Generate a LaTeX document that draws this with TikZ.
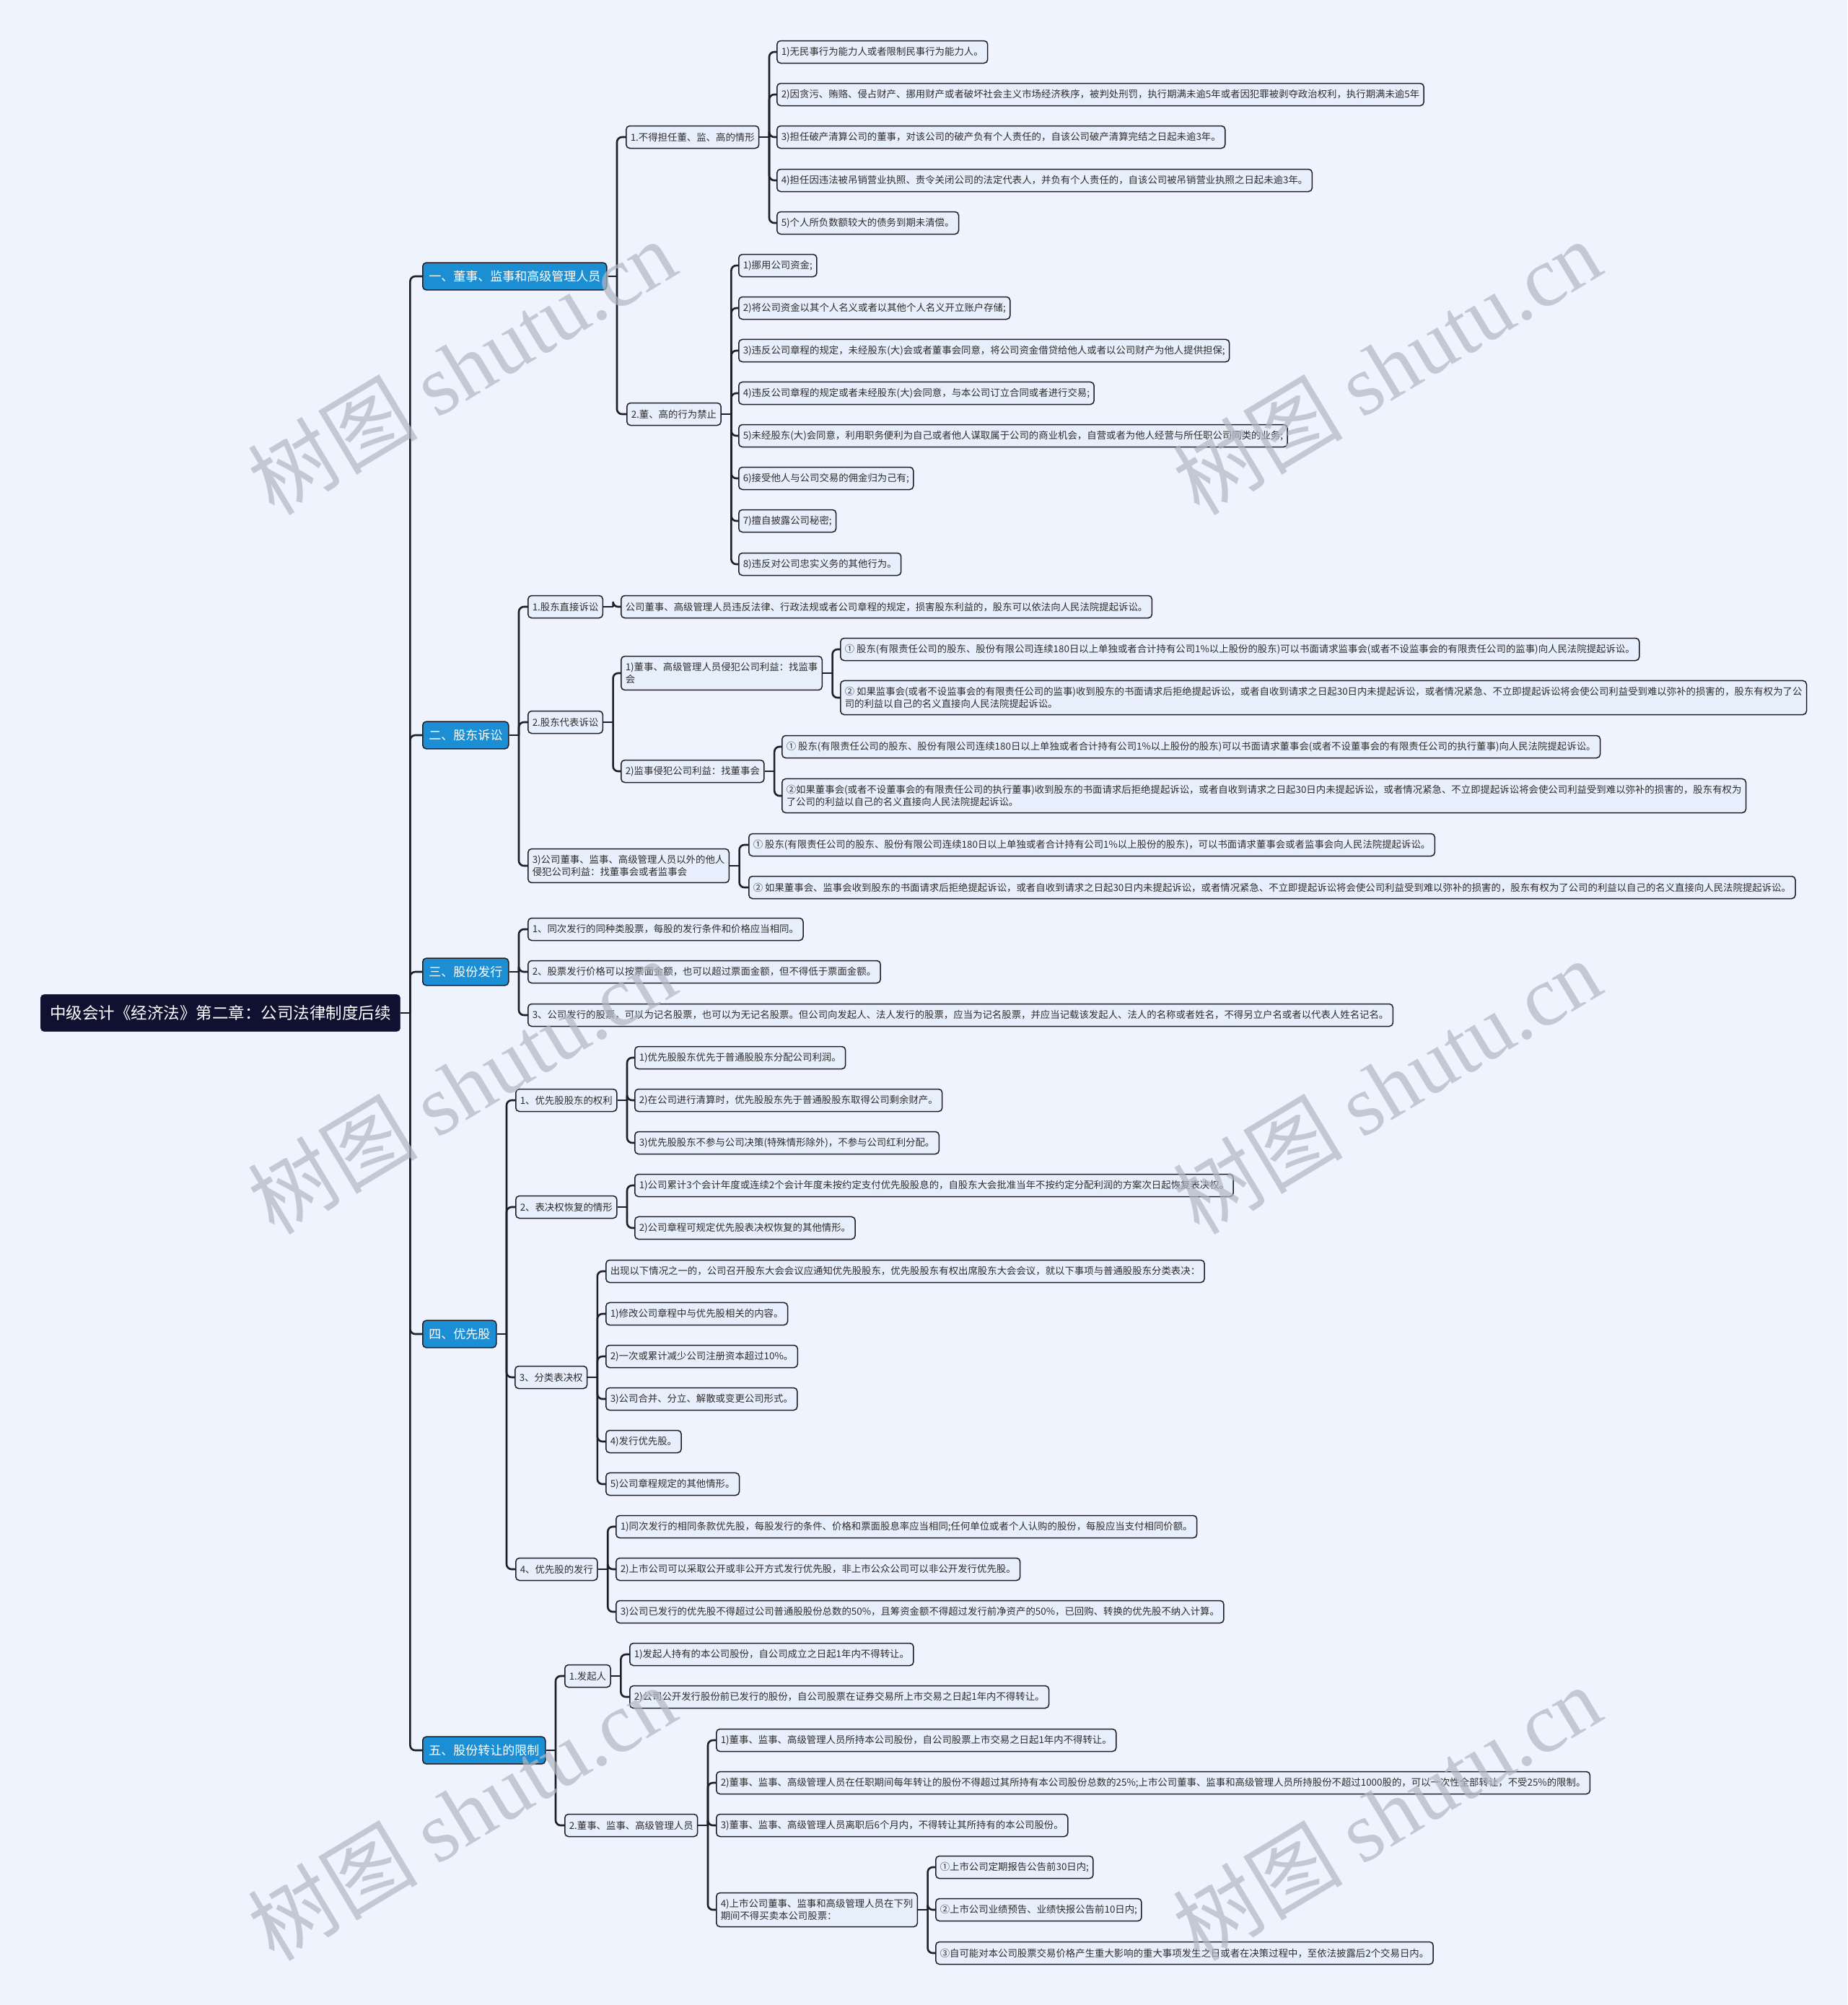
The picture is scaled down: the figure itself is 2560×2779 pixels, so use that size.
\documentclass[tikz,border=0pt]{standalone}
\usepackage{fontspec}
\setmainfont{Noto Sans CJK SC}
\newfontfamily\wmlatin{Liberation Serif}
\definecolor{bgc}{RGB}{238,243,254}
\definecolor{leaffill}{RGB}{232,239,252}
\definecolor{linec}{RGB}{30,30,40}
\definecolor{catfill}{RGB}{28,143,212}
\definecolor{rootfill}{RGB}{16,16,48}
\definecolor{txtc}{RGB}{45,45,45}
\definecolor{wmc}{RGB}{178,183,196}
\tikzset{
  rootblk/.style={draw=rootfill,fill=rootfill,text=white,rounded corners=5pt,anchor=west,inner xsep=13pt,inner ysep=15pt,font=\fontsize{22.5}{27}\selectfont},
  catblk/.style={draw=linec,line width=1.5pt,fill=catfill,text=white,rounded corners=5pt,anchor=west,inner xsep=8.5pt,inner ysep=11pt,font=\fontsize{17}{20}\selectfont},
  itemblk/.style={draw=linec,line width=1.5pt,fill=leaffill,text=txtc,rounded corners=5pt,anchor=west,align=left,inner xsep=6pt,inner ysep=8.5pt,minimum height=31pt,font=\fontsize{13.4}{17.5}\selectfont},
  link/.style={draw=linec,line width=2.6pt,rounded corners=7pt},
  wmark/.style={text=wmc,opacity=0.7,rotate=31,font=\fontsize{118}{118}\selectfont}
}
\begin{document}
\begin{tikzpicture}[x=1pt,y=-1pt]
  \fill[bgc] (0,0) rectangle (2560,2779);
  \useasboundingbox (0,0) rectangle (2560,2779);

  % root and main branches
  \node[rootblk] (r) at (56,1404) {中级会计《经济法》第二章：公司法律制度后续};
  \node[catblk] (c1) at (585,383) {一、董事、监事和高级管理人员};
  \node[catblk] (c2) at (585,1019) {二、股东诉讼};
  \node[catblk] (c3) at (585,1347) {三、股份发行};
  \node[catblk] (c4) at (585,1849) {四、优先股};
  \node[catblk] (c5) at (585,2426) {五、股份转让的限制};

  % 一
  \node[itemblk] (a) at (867,190) {1.不得担任董、监、高的情形};
  \node[itemblk] (a1) at (1076,72) {1)无民事行为能力人或者限制民事行为能力人。};
  \node[itemblk] (a2) at (1076,131) {2)因贪污、贿赂、侵占财产、挪用财产或者破坏社会主义市场经济秩序，被判处刑罚，执行期满未逾5年或者因犯罪被剥夺政治权利，执行期满未逾5年};
  \node[itemblk] (a3) at (1076,190) {3)担任破产清算公司的董事，对该公司的破产负有个人责任的，自该公司破产清算完结之日起未逾3年。};
  \node[itemblk] (a4) at (1076,250) {4)担任因违法被吊销营业执照、责令关闭公司的法定代表人，并负有个人责任的，自该公司被吊销营业执照之日起未逾3年。};
  \node[itemblk] (a5) at (1076,309) {5)个人所负数额较大的债务到期未清偿。};
  \node[itemblk] (b) at (868,574) {2.董、高的行为禁止};
  \node[itemblk] (b1) at (1023,368) {1)挪用公司资金;};
  \node[itemblk] (b2) at (1023,427) {2)将公司资金以其个人名义或者以其他个人名义开立账户存储;};
  \node[itemblk] (b3) at (1023,486) {3)违反公司章程的规定，未经股东(大)会或者董事会同意，将公司资金借贷给他人或者以公司财产为他人提供担保;};
  \node[itemblk] (b4) at (1023,545) {4)违反公司章程的规定或者未经股东(大)会同意，与本公司订立合同或者进行交易;};
  \node[itemblk] (b5) at (1023,604) {5)未经股东(大)会同意，利用职务便利为自己或者他人谋取属于公司的商业机会，自营或者为他人经营与所任职公司同类的业务;};
  \node[itemblk] (b6) at (1023,663) {6)接受他人与公司交易的佣金归为己有;};
  \node[itemblk] (b7) at (1023,722) {7)擅自披露公司秘密;};
  \node[itemblk] (b8) at (1023,782) {8)违反对公司忠实义务的其他行为。};

  % 二
  \node[itemblk] (d) at (731,841) {1.股东直接诉讼};
  \node[itemblk] (d1) at (860,841) {公司董事、高级管理人员违反法律、行政法规或者公司章程的规定，损害股东利益的，股东可以依法向人民法院提起诉讼。};
  \node[itemblk] (e) at (731,1001) {2.股东代表诉讼};
  \node[itemblk] (ea) at (860,933) {1)董事、高级管理人员侵犯公司利益：找监事\\会};
  \node[itemblk] (ea1) at (1164,900) {① 股东(有限责任公司的股东、股份有限公司连续180日以上单独或者合计持有公司1\%以上股份的股东)可以书面请求监事会(或者不设监事会的有限责任公司的监事)向人民法院提起诉讼。};
  \node[itemblk] (ea2) at (1164,967) {② 如果监事会(或者不设监事会的有限责任公司的监事)收到股东的书面请求后拒绝提起诉讼，或者自收到请求之日起30日内未提起诉讼，或者情况紧急、不立即提起诉讼将会使公司利益受到难以弥补的损害的，股东有权为了公\\司的利益以自己的名义直接向人民法院提起诉讼。};
  \node[itemblk] (eb) at (860,1069) {2)监事侵犯公司利益：找董事会};
  \node[itemblk] (eb1) at (1083,1035) {① 股东(有限责任公司的股东、股份有限公司连续180日以上单独或者合计持有公司1\%以上股份的股东)可以书面请求董事会(或者不设董事会的有限责任公司的执行董事)向人民法院提起诉讼。};
  \node[itemblk] (eb2) at (1083,1103) {②如果董事会(或者不设董事会的有限责任公司的执行董事)收到股东的书面请求后拒绝提起诉讼，或者自收到请求之日起30日内未提起诉讼，或者情况紧急、不立即提起诉讼将会使公司利益受到难以弥补的损害的，股东有权为\\了公司的利益以自己的名义直接向人民法院提起诉讼。};
  \node[itemblk] (f) at (731,1200) {3)公司董事、监事、高级管理人员以外的他人\\侵犯公司利益：找董事会或者监事会};
  \node[itemblk] (f1) at (1037,1171) {① 股东(有限责任公司的股东、股份有限公司连续180日以上单独或者合计持有公司1\%以上股份的股东)，可以书面请求董事会或者监事会向人民法院提起诉讼。};
  \node[itemblk] (f2) at (1037,1230) {② 如果董事会、监事会收到股东的书面请求后拒绝提起诉讼，或者自收到请求之日起30日内未提起诉讼，或者情况紧急、不立即提起诉讼将会使公司利益受到难以弥补的损害的，股东有权为了公司的利益以自己的名义直接向人民法院提起诉讼。};

  % 三
  \node[itemblk] (g1) at (731,1288) {1、同次发行的同种类股票，每股的发行条件和价格应当相同。};
  \node[itemblk] (g2) at (731,1347) {2、股票发行价格可以按票面金额，也可以超过票面金额，但不得低于票面金额。};
  \node[itemblk] (g3) at (731,1407) {3、公司发行的股票，可以为记名股票，也可以为无记名股票。但公司向发起人、法人发行的股票，应当为记名股票，并应当记载该发起人、法人的名称或者姓名，不得另立户名或者以代表人姓名记名。};

  % 四
  \node[itemblk] (h) at (714,1525) {1、优先股股东的权利};
  \node[itemblk] (h1) at (879,1466) {1)优先股股东优先于普通股股东分配公司利润。};
  \node[itemblk] (h2) at (879,1525) {2)在公司进行清算时，优先股股东先于普通股股东取得公司剩余财产。};
  \node[itemblk] (h3) at (879,1584) {3)优先股股东不参与公司决策(特殊情形除外)，不参与公司红利分配。};
  \node[itemblk] (i) at (714,1673) {2、表决权恢复的情形};
  \node[itemblk] (i1) at (879,1643) {1)公司累计3个会计年度或连续2个会计年度未按约定支付优先股股息的，自股东大会批准当年不按约定分配利润的方案次日起恢复表决权。};
  \node[itemblk] (i2) at (879,1702) {2)公司章程可规定优先股表决权恢复的其他情形。};
  \node[itemblk] (k) at (713,1909) {3、分类表决权};
  \node[itemblk] (k0) at (839,1762) {出现以下情况之一的，公司召开股东大会会议应通知优先股股东，优先股股东有权出席股东大会会议，就以下事项与普通股股东分类表决：};
  \node[itemblk] (k1) at (839,1821) {1)修改公司章程中与优先股相关的内容。};
  \node[itemblk] (k2) at (839,1880) {2)一次或累计减少公司注册资本超过10\%。};
  \node[itemblk] (k3) at (839,1939) {3)公司合并、分立、解散或变更公司形式。};
  \node[itemblk] (k4) at (839,1998) {4)发行优先股。};
  \node[itemblk] (k5) at (839,2057) {5)公司章程规定的其他情形。};
  \node[itemblk] (m) at (714,2175) {4、优先股的发行};
  \node[itemblk] (m1) at (853,2116) {1)同次发行的相同条款优先股，每股发行的条件、价格和票面股息率应当相同;任何单位或者个人认购的股份，每股应当支付相同价额。};
  \node[itemblk] (m2) at (853,2175) {2)上市公司可以采取公开或非公开方式发行优先股，非上市公众公司可以非公开发行优先股。};
  \node[itemblk] (m3) at (853,2234) {3)公司已发行的优先股不得超过公司普通股股份总数的50\%，且筹资金额不得超过发行前净资产的50\%，已回购、转换的优先股不纳入计算。};

  % 五
  \node[itemblk] (n) at (782,2323) {1.发起人};
  \node[itemblk] (n1) at (872,2293) {1)发起人持有的本公司股份，自公司成立之日起1年内不得转让。};
  \node[itemblk] (n2) at (872,2352) {2)公司公开发行股份前已发行的股份，自公司股票在证券交易所上市交易之日起1年内不得转让。};
  \node[itemblk] (p) at (782,2530) {2.董事、监事、高级管理人员};
  \node[itemblk] (p1) at (992,2412) {1)董事、监事、高级管理人员所持本公司股份，自公司股票上市交易之日起1年内不得转让。};
  \node[itemblk] (p2) at (992,2471) {2)董事、监事、高级管理人员在任职期间每年转让的股份不得超过其所持有本公司股份总数的25\%;上市公司董事、监事和高级管理人员所持股份不超过1000股的，可以一次性全部转让，不受25\%的限制。};
  \node[itemblk] (p3) at (992,2530) {3)董事、监事、高级管理人员离职后6个月内，不得转让其所持有的本公司股份。};
  \node[itemblk] (p4) at (992,2647) {4)上市公司董事、监事和高级管理人员在下列\\期间不得买卖本公司股票：};
  \node[itemblk] (p41) at (1296,2588) {①上市公司定期报告公告前30日内;};
  \node[itemblk] (p42) at (1296,2647) {②上市公司业绩预告、业绩快报公告前10日内;};
  \node[itemblk] (p43) at (1296,2707) {③自可能对本公司股票交易价格产生重大影响的重大事项发生之日或者在决策过程中，至依法披露后2个交易日内。};

  % connectors
  \foreach \p/\cs in {r/{c1,c2,c3,c4,c5}, c1/{a,b}, a/{a1,a2,a3,a4,a5},
      b/{b1,b2,b3,b4,b5,b6,b7,b8}, c2/{d,e,f}, d/{d1}, e/{ea,eb},
      ea/{ea1,ea2}, eb/{eb1,eb2}, f/{f1,f2}, c3/{g1,g2,g3},
      c4/{h,i,k,m}, h/{h1,h2,h3}, i/{i1,i2}, k/{k0,k1,k2,k3,k4,k5},
      m/{m1,m2,m3}, c5/{n,p}, n/{n1,n2}, p/{p1,p2,p3,p4},
      p4/{p41,p42,p43}} {
    \draw[link] (\p.east) -- ++(13.5,0) coordinate (jn);
    \foreach \c in \cs
      \draw[link] (jn) |- (\c.west);
  }

  % watermark
  \foreach \n/\x/\y in {1/640/508, 2/1922/508, 3/640/1505, 4/1922/1505, 5/640/2512, 6/1922/2512}
    \node[wmark] (wm\n) at (\x,\y) {树图 {\wmlatin shutu.cn}};
\end{tikzpicture}
\end{document}
